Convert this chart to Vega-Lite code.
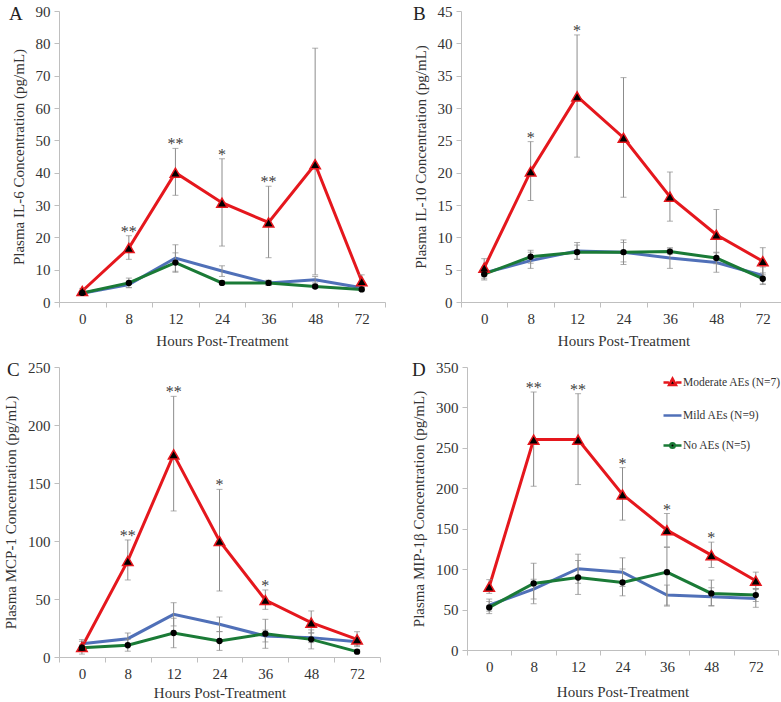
{
  "$schema": "https://vega.github.io/schema/vega-lite/v6.json",
  "background": "white",
  "padding": {"left": 3, "top": 4, "right": 0, "bottom": 0},
  "datasets": {
    "A": [
      {"t": "0", "grp": "Mild AEs (N=9)", "mean": 2.7, "lo": 2.1, "hi": 3.3, "sig": ""},
      {"t": "8", "grp": "Mild AEs (N=9)", "mean": 5.4, "lo": 4.4, "hi": 6.4, "sig": ""},
      {"t": "12", "grp": "Mild AEs (N=9)", "mean": 13.6, "lo": 9.5, "hi": 17.7, "sig": ""},
      {"t": "24", "grp": "Mild AEs (N=9)", "mean": 9.6, "lo": 7.9, "hi": 11.2, "sig": ""},
      {"t": "36", "grp": "Mild AEs (N=9)", "mean": 5.9, "lo": 5.1, "hi": 6.7, "sig": ""},
      {"t": "48", "grp": "Mild AEs (N=9)", "mean": 6.9, "lo": 5.9, "hi": 7.9, "sig": ""},
      {"t": "72", "grp": "Mild AEs (N=9)", "mean": 4.4, "lo": 3.8, "hi": 5.0, "sig": ""},
      {"t": "0", "grp": "No AEs (N=5)", "mean": 2.8, "lo": 2.3, "hi": 3.3, "sig": ""},
      {"t": "8", "grp": "No AEs (N=5)", "mean": 5.9, "lo": 4.5, "hi": 7.4, "sig": ""},
      {"t": "12", "grp": "No AEs (N=5)", "mean": 12.2, "lo": 9.2, "hi": 15.2, "sig": ""},
      {"t": "24", "grp": "No AEs (N=5)", "mean": 5.9, "lo": 5.3, "hi": 6.5, "sig": ""},
      {"t": "36", "grp": "No AEs (N=5)", "mean": 5.9, "lo": 5.1, "hi": 6.7, "sig": ""},
      {"t": "48", "grp": "No AEs (N=5)", "mean": 4.8, "lo": 4.2, "hi": 5.4, "sig": ""},
      {"t": "72", "grp": "No AEs (N=5)", "mean": 3.9, "lo": 3.4, "hi": 4.4, "sig": ""},
      {"t": "0", "grp": "Moderate AEs (N=7)", "mean": 3.4, "lo": 2.6, "hi": 4.2, "sig": ""},
      {"t": "8", "grp": "Moderate AEs (N=7)", "mean": 16.7, "lo": 13.2, "hi": 20.5, "sig": "**"},
      {"t": "12", "grp": "Moderate AEs (N=7)", "mean": 40.0, "lo": 33.0, "hi": 47.5, "sig": "**"},
      {"t": "24", "grp": "Moderate AEs (N=7)", "mean": 30.7, "lo": 17.3, "hi": 44.3, "sig": "*"},
      {"t": "36", "grp": "Moderate AEs (N=7)", "mean": 24.6, "lo": 13.7, "hi": 35.8, "sig": "**"},
      {"t": "48", "grp": "Moderate AEs (N=7)", "mean": 42.6, "lo": 8.4, "hi": 78.5, "sig": ""},
      {"t": "72", "grp": "Moderate AEs (N=7)", "mean": 6.4, "lo": 4.5, "hi": 8.4, "sig": ""}
    ],
    "B": [
      {"t": "0", "grp": "Mild AEs (N=9)", "mean": 4.5, "lo": 3.6, "hi": 5.4, "sig": ""},
      {"t": "8", "grp": "Mild AEs (N=9)", "mean": 6.4, "lo": 5.2, "hi": 7.7, "sig": ""},
      {"t": "12", "grp": "Mild AEs (N=9)", "mean": 7.9, "lo": 6.6, "hi": 9.2, "sig": ""},
      {"t": "24", "grp": "Mild AEs (N=9)", "mean": 7.7, "lo": 5.8, "hi": 9.6, "sig": ""},
      {"t": "36", "grp": "Mild AEs (N=9)", "mean": 6.8, "lo": 5.2, "hi": 8.4, "sig": ""},
      {"t": "48", "grp": "Mild AEs (N=9)", "mean": 6.1, "lo": 4.6, "hi": 7.6, "sig": ""},
      {"t": "72", "grp": "Mild AEs (N=9)", "mean": 4.1, "lo": 2.8, "hi": 5.4, "sig": ""},
      {"t": "0", "grp": "No AEs (N=5)", "mean": 4.3, "lo": 3.4, "hi": 5.2, "sig": ""},
      {"t": "8", "grp": "No AEs (N=5)", "mean": 7.0, "lo": 6.0, "hi": 8.0, "sig": ""},
      {"t": "12", "grp": "No AEs (N=5)", "mean": 7.7, "lo": 6.6, "hi": 8.8, "sig": ""},
      {"t": "24", "grp": "No AEs (N=5)", "mean": 7.7, "lo": 6.2, "hi": 9.2, "sig": ""},
      {"t": "36", "grp": "No AEs (N=5)", "mean": 7.8, "lo": 7.4, "hi": 8.2, "sig": ""},
      {"t": "48", "grp": "No AEs (N=5)", "mean": 6.8, "lo": 5.9, "hi": 7.7, "sig": ""},
      {"t": "72", "grp": "No AEs (N=5)", "mean": 3.6, "lo": 2.7, "hi": 4.5, "sig": ""},
      {"t": "0", "grp": "Moderate AEs (N=7)", "mean": 5.3, "lo": 3.9, "hi": 6.7, "sig": ""},
      {"t": "8", "grp": "Moderate AEs (N=7)", "mean": 20.2, "lo": 15.7, "hi": 24.8, "sig": "*"},
      {"t": "12", "grp": "Moderate AEs (N=7)", "mean": 31.8, "lo": 22.4, "hi": 41.3, "sig": "*"},
      {"t": "24", "grp": "Moderate AEs (N=7)", "mean": 25.4, "lo": 16.2, "hi": 34.7, "sig": ""},
      {"t": "36", "grp": "Moderate AEs (N=7)", "mean": 16.3, "lo": 12.5, "hi": 20.1, "sig": ""},
      {"t": "48", "grp": "Moderate AEs (N=7)", "mean": 10.4, "lo": 6.5, "hi": 14.3, "sig": ""},
      {"t": "72", "grp": "Moderate AEs (N=7)", "mean": 6.3, "lo": 4.2, "hi": 8.4, "sig": ""}
    ],
    "C": [
      {"t": "0", "grp": "Mild AEs (N=9)", "mean": 11.5, "lo": 8.0, "hi": 15.0, "sig": ""},
      {"t": "8", "grp": "Mild AEs (N=9)", "mean": 15.8, "lo": 10.9, "hi": 20.7, "sig": ""},
      {"t": "12", "grp": "Mild AEs (N=9)", "mean": 36.8, "lo": 26.8, "hi": 46.8, "sig": ""},
      {"t": "24", "grp": "Mild AEs (N=9)", "mean": 28.2, "lo": 21.9, "hi": 34.5, "sig": ""},
      {"t": "36", "grp": "Mild AEs (N=9)", "mean": 18.1, "lo": 13.0, "hi": 23.2, "sig": ""},
      {"t": "48", "grp": "Mild AEs (N=9)", "mean": 16.7, "lo": 12.4, "hi": 21.0, "sig": ""},
      {"t": "72", "grp": "Mild AEs (N=9)", "mean": 13.2, "lo": 9.8, "hi": 16.6, "sig": ""},
      {"t": "0", "grp": "No AEs (N=5)", "mean": 8.0, "lo": 2.5, "hi": 13.5, "sig": ""},
      {"t": "8", "grp": "No AEs (N=5)", "mean": 10.1, "lo": 5.0, "hi": 15.2, "sig": ""},
      {"t": "12", "grp": "No AEs (N=5)", "mean": 20.7, "lo": 8.0, "hi": 33.4, "sig": ""},
      {"t": "24", "grp": "No AEs (N=5)", "mean": 13.8, "lo": 5.7, "hi": 21.9, "sig": ""},
      {"t": "36", "grp": "No AEs (N=5)", "mean": 20.1, "lo": 7.5, "hi": 32.5, "sig": ""},
      {"t": "48", "grp": "No AEs (N=5)", "mean": 15.2, "lo": 7.0, "hi": 23.4, "sig": ""},
      {"t": "72", "grp": "No AEs (N=5)", "mean": 4.6, "lo": 2.8, "hi": 6.4, "sig": ""},
      {"t": "0", "grp": "Moderate AEs (N=7)", "mean": 8.6, "lo": 6.6, "hi": 10.6, "sig": ""},
      {"t": "8", "grp": "Moderate AEs (N=7)", "mean": 82.8, "lo": 66.4, "hi": 100.9, "sig": "**"},
      {"t": "12", "grp": "Moderate AEs (N=7)", "mean": 174.7, "lo": 125.9, "hi": 224.7, "sig": "**"},
      {"t": "24", "grp": "Moderate AEs (N=7)", "mean": 100.0, "lo": 56.9, "hi": 144.5, "sig": "*"},
      {"t": "36", "grp": "Moderate AEs (N=7)", "mean": 49.1, "lo": 41.1, "hi": 57.8, "sig": "*"},
      {"t": "48", "grp": "Moderate AEs (N=7)", "mean": 29.6, "lo": 20.5, "hi": 39.7, "sig": ""},
      {"t": "72", "grp": "Moderate AEs (N=7)", "mean": 15.2, "lo": 9.0, "hi": 21.8, "sig": ""}
    ],
    "D": [
      {"t": "0", "grp": "Mild AEs (N=9)", "mean": 55.6, "lo": 48.0, "hi": 63.0, "sig": ""},
      {"t": "8", "grp": "Mild AEs (N=9)", "mean": 75.3, "lo": 63.0, "hi": 87.5, "sig": ""},
      {"t": "12", "grp": "Mild AEs (N=9)", "mean": 100.5, "lo": 82.5, "hi": 118.5, "sig": ""},
      {"t": "24", "grp": "Mild AEs (N=9)", "mean": 96.3, "lo": 78.6, "hi": 114.0, "sig": ""},
      {"t": "36", "grp": "Mild AEs (N=9)", "mean": 67.9, "lo": 55.5, "hi": 80.3, "sig": ""},
      {"t": "48", "grp": "Mild AEs (N=9)", "mean": 65.9, "lo": 55.0, "hi": 77.0, "sig": ""},
      {"t": "72", "grp": "Mild AEs (N=9)", "mean": 63.8, "lo": 52.8, "hi": 74.8, "sig": ""},
      {"t": "0", "grp": "No AEs (N=5)", "mean": 52.7, "lo": 45.0, "hi": 60.0, "sig": ""},
      {"t": "8", "grp": "No AEs (N=5)", "mean": 82.3, "lo": 57.3, "hi": 107.3, "sig": ""},
      {"t": "12", "grp": "No AEs (N=5)", "mean": 89.7, "lo": 68.7, "hi": 110.7, "sig": ""},
      {"t": "24", "grp": "No AEs (N=5)", "mean": 83.6, "lo": 67.0, "hi": 100.2, "sig": ""},
      {"t": "36", "grp": "No AEs (N=5)", "mean": 96.3, "lo": 54.3, "hi": 126.8, "sig": ""},
      {"t": "48", "grp": "No AEs (N=5)", "mean": 70.0, "lo": 54.3, "hi": 86.5, "sig": ""},
      {"t": "72", "grp": "No AEs (N=5)", "mean": 67.9, "lo": 60.0, "hi": 76.0, "sig": ""},
      {"t": "0", "grp": "Moderate AEs (N=7)", "mean": 78.2, "lo": 70.0, "hi": 87.0, "sig": ""},
      {"t": "8", "grp": "Moderate AEs (N=7)", "mean": 260.2, "lo": 202.6, "hi": 319.0, "sig": "**"},
      {"t": "12", "grp": "Moderate AEs (N=7)", "mean": 260.2, "lo": 204.6, "hi": 317.0, "sig": "**"},
      {"t": "24", "grp": "Moderate AEs (N=7)", "mean": 192.3, "lo": 160.6, "hi": 225.6, "sig": "*"},
      {"t": "36", "grp": "Moderate AEs (N=7)", "mean": 148.2, "lo": 127.6, "hi": 168.8, "sig": "*"},
      {"t": "48", "grp": "Moderate AEs (N=7)", "mean": 117.3, "lo": 102.0, "hi": 133.4, "sig": "*"},
      {"t": "72", "grp": "Moderate AEs (N=7)", "mean": 85.6, "lo": 76.0, "hi": 96.3, "sig": ""}
    ]
  },
  "resolve": {"scale": {"color": "independent", "shape": "independent", "y": "independent", "x": "independent"}, "legend": {"color": "independent", "shape": "independent"}},
  "spacing": 12,
  "vconcat": [
    {
      "spacing": 27,
      "resolve": {"scale": {"color": "independent", "shape": "independent", "y": "independent", "x": "independent"}, "legend": {"color": "independent", "shape": "independent"}},
      "hconcat": [
        {
          "width": 326, "height": 291,
          "data": {"name": "A"},
          "title": {"text": "A", "dx": -50, "dy": 24},
          "encoding": {"x": {"field": "t", "type": "ordinal", "sort": ["0","8","12","24","36","48","72"], "scale": {"type": "band", "paddingInner": 0, "paddingOuter": 0}, "axis": {"title": "Hours Post-Treatment", "labelPadding": 4, "titlePadding": 7}}},
          "layer": [
            {"mark": {"type": "line", "strokeWidth": 3},
             "encoding": {"y": {"field": "mean", "type": "quantitative", "scale": {"domain": [0, 90], "nice": false}, "axis": {"values": [0,10,20,30,40,50,60,70,80,90], "title": "Plasma IL-6 Concentration (pg/mL)"}},
                          "color": {"field": "grp", "type": "nominal", "scale": {"domain": ["Moderate AEs (N=7)", "Mild AEs (N=9)", "No AEs (N=5)"], "range": ["#E5171D", "#5070B8", "#1A7A36"]}, "legend": null}}},
            {"mark": {"type": "rule", "color": "#8C8C8C", "strokeWidth": 1}, "encoding": {"y": {"field": "lo", "type": "quantitative", "axis": {"values": [0,10,20,30,40,50,60,70,80,90], "title": "Plasma IL-6 Concentration (pg/mL)"}}, "y2": {"field": "hi"}}},
            {"mark": {"type": "tick", "color": "#8C8C8C", "thickness": 1, "size": 6}, "encoding": {"y": {"field": "lo", "type": "quantitative", "axis": {"values": [0,10,20,30,40,50,60,70,80,90], "title": "Plasma IL-6 Concentration (pg/mL)"}}}},
            {"mark": {"type": "tick", "color": "#8C8C8C", "thickness": 1, "size": 6}, "encoding": {"y": {"field": "hi", "type": "quantitative", "axis": {"values": [0,10,20,30,40,50,60,70,80,90], "title": "Plasma IL-6 Concentration (pg/mL)"}}}},
            {"transform": [{"filter": "datum.grp === 'Moderate AEs (N=7)'"}],
             "mark": {"type": "point", "shape": "triangle-up", "filled": true, "fill": "#000000", "stroke": "#E5171D", "strokeWidth": 1.5, "opacity": 1, "size": 110},
             "encoding": {"y": {"field": "mean", "type": "quantitative", "axis": {"values": [0,10,20,30,40,50,60,70,80,90], "title": "Plasma IL-6 Concentration (pg/mL)"}}}},
            {"transform": [{"filter": "datum.grp === 'No AEs (N=5)'"}],
             "mark": {"type": "point", "shape": "circle", "filled": true, "fill": "#000000", "opacity": 1, "size": 40},
             "encoding": {"y": {"field": "mean", "type": "quantitative", "axis": {"values": [0,10,20,30,40,50,60,70,80,90], "title": "Plasma IL-6 Concentration (pg/mL)"}}}},
            {"transform": [{"filter": "datum.sig !== ''"}],
             "mark": {"type": "text", "baseline": "alphabetic", "dy": 1, "fontSize": 16, "font": "Liberation Serif", "color": "#404040"},
             "encoding": {"y": {"field": "hi", "type": "quantitative", "axis": {"values": [0,10,20,30,40,50,60,70,80,90], "title": "Plasma IL-6 Concentration (pg/mL)"}}, "text": {"field": "sig"}}}
          ]
        },
        {
          "width": 325, "height": 291,
          "data": {"name": "B"},
          "title": {"text": "B", "dx": -48, "dy": 24},
          "encoding": {"x": {"field": "t", "type": "ordinal", "sort": ["0","8","12","24","36","48","72"], "scale": {"type": "band", "paddingInner": 0, "paddingOuter": 0}, "axis": {"title": "Hours Post-Treatment", "labelPadding": 4, "titlePadding": 7}}},
          "layer": [
            {"mark": {"type": "line", "strokeWidth": 3},
             "encoding": {"y": {"field": "mean", "type": "quantitative", "scale": {"domain": [0, 45], "nice": false}, "axis": {"values": [0,5,10,15,20,25,30,35,40,45], "title": "Plasma IL-10 Concentration (pg/mL)"}},
                          "color": {"field": "grp", "type": "nominal", "scale": {"domain": ["Moderate AEs (N=7)", "Mild AEs (N=9)", "No AEs (N=5)"], "range": ["#E5171D", "#5070B8", "#1A7A36"]}, "legend": null}}},
            {"mark": {"type": "rule", "color": "#8C8C8C", "strokeWidth": 1}, "encoding": {"y": {"field": "lo", "type": "quantitative", "axis": {"values": [0,5,10,15,20,25,30,35,40,45], "title": "Plasma IL-10 Concentration (pg/mL)"}}, "y2": {"field": "hi"}}},
            {"mark": {"type": "tick", "color": "#8C8C8C", "thickness": 1, "size": 6}, "encoding": {"y": {"field": "lo", "type": "quantitative", "axis": {"values": [0,5,10,15,20,25,30,35,40,45], "title": "Plasma IL-10 Concentration (pg/mL)"}}}},
            {"mark": {"type": "tick", "color": "#8C8C8C", "thickness": 1, "size": 6}, "encoding": {"y": {"field": "hi", "type": "quantitative", "axis": {"values": [0,5,10,15,20,25,30,35,40,45], "title": "Plasma IL-10 Concentration (pg/mL)"}}}},
            {"transform": [{"filter": "datum.grp === 'Moderate AEs (N=7)'"}],
             "mark": {"type": "point", "shape": "triangle-up", "filled": true, "fill": "#000000", "stroke": "#E5171D", "strokeWidth": 1.5, "opacity": 1, "size": 110},
             "encoding": {"y": {"field": "mean", "type": "quantitative", "axis": {"values": [0,5,10,15,20,25,30,35,40,45], "title": "Plasma IL-10 Concentration (pg/mL)"}}}},
            {"transform": [{"filter": "datum.grp === 'No AEs (N=5)'"}],
             "mark": {"type": "point", "shape": "circle", "filled": true, "fill": "#000000", "opacity": 1, "size": 40},
             "encoding": {"y": {"field": "mean", "type": "quantitative", "axis": {"values": [0,5,10,15,20,25,30,35,40,45], "title": "Plasma IL-10 Concentration (pg/mL)"}}}},
            {"transform": [{"filter": "datum.sig !== ''"}],
             "mark": {"type": "text", "baseline": "alphabetic", "dy": 1, "fontSize": 16, "font": "Liberation Serif", "color": "#404040"},
             "encoding": {"y": {"field": "hi", "type": "quantitative", "axis": {"values": [0,5,10,15,20,25,30,35,40,45], "title": "Plasma IL-10 Concentration (pg/mL)"}}, "text": {"field": "sig"}}}
          ]
        }
      ]
    },
    {
      "spacing": 30,
      "resolve": {"scale": {"color": "independent", "shape": "independent", "y": "independent", "x": "independent"}, "legend": {"color": "independent", "shape": "independent"}},
      "hconcat": [
        {
          "width": 321, "height": 290,
          "data": {"name": "C"},
          "title": {"text": "C", "dx": -52, "dy": 24},
          "encoding": {"x": {"field": "t", "type": "ordinal", "sort": ["0","8","12","24","36","48","72"], "scale": {"type": "band", "paddingInner": 0, "paddingOuter": 0}, "axis": {"title": "Hours Post-Treatment", "labelPadding": 4, "titlePadding": 4}}},
          "layer": [
            {"mark": {"type": "line", "strokeWidth": 3},
             "encoding": {"y": {"field": "mean", "type": "quantitative", "scale": {"domain": [0, 250], "nice": false}, "axis": {"values": [0,50,100,150,200,250], "title": "Plasma MCP-1 Concentration (pg/mL)"}},
                          "color": {"field": "grp", "type": "nominal", "scale": {"domain": ["Moderate AEs (N=7)", "Mild AEs (N=9)", "No AEs (N=5)"], "range": ["#E5171D", "#5070B8", "#1A7A36"]}, "legend": null}}},
            {"mark": {"type": "rule", "color": "#8C8C8C", "strokeWidth": 1}, "encoding": {"y": {"field": "lo", "type": "quantitative", "axis": {"values": [0,50,100,150,200,250], "title": "Plasma MCP-1 Concentration (pg/mL)"}}, "y2": {"field": "hi"}}},
            {"mark": {"type": "tick", "color": "#8C8C8C", "thickness": 1, "size": 6}, "encoding": {"y": {"field": "lo", "type": "quantitative", "axis": {"values": [0,50,100,150,200,250], "title": "Plasma MCP-1 Concentration (pg/mL)"}}}},
            {"mark": {"type": "tick", "color": "#8C8C8C", "thickness": 1, "size": 6}, "encoding": {"y": {"field": "hi", "type": "quantitative", "axis": {"values": [0,50,100,150,200,250], "title": "Plasma MCP-1 Concentration (pg/mL)"}}}},
            {"transform": [{"filter": "datum.grp === 'Moderate AEs (N=7)'"}],
             "mark": {"type": "point", "shape": "triangle-up", "filled": true, "fill": "#000000", "stroke": "#E5171D", "strokeWidth": 1.5, "opacity": 1, "size": 110},
             "encoding": {"y": {"field": "mean", "type": "quantitative", "axis": {"values": [0,50,100,150,200,250], "title": "Plasma MCP-1 Concentration (pg/mL)"}}}},
            {"transform": [{"filter": "datum.grp === 'No AEs (N=5)'"}],
             "mark": {"type": "point", "shape": "circle", "filled": true, "fill": "#000000", "opacity": 1, "size": 40},
             "encoding": {"y": {"field": "mean", "type": "quantitative", "axis": {"values": [0,50,100,150,200,250], "title": "Plasma MCP-1 Concentration (pg/mL)"}}}},
            {"transform": [{"filter": "datum.sig !== ''"}],
             "mark": {"type": "text", "baseline": "alphabetic", "dy": 1, "fontSize": 16, "font": "Liberation Serif", "color": "#404040"},
             "encoding": {"y": {"field": "hi", "type": "quantitative", "axis": {"values": [0,50,100,150,200,250], "title": "Plasma MCP-1 Concentration (pg/mL)"}}, "text": {"field": "sig"}}}
          ]
        },
        {
          "width": 311, "height": 283,
          "data": {"name": "D"},
          "title": {"text": "D", "dx": -55, "dy": 24},
          "encoding": {"x": {"field": "t", "type": "ordinal", "sort": ["0","8","12","24","36","48","72"], "scale": {"type": "band", "paddingInner": 0, "paddingOuter": 0}, "axis": {"title": "Hours Post-Treatment", "labelPadding": 4, "titlePadding": 10}}},
          "layer": [
            {"mark": {"type": "line", "strokeWidth": 3},
             "encoding": {"y": {"field": "mean", "type": "quantitative", "scale": {"domain": [0, 350], "nice": false}, "axis": {"values": [0,50,100,150,200,250,300,350], "title": "Plasma MIP-1β Concentration (pg/mL)"}},
                          "color": {"field": "grp", "type": "nominal", "scale": {"domain": ["Moderate AEs (N=7)", "Mild AEs (N=9)", "No AEs (N=5)"], "range": ["#E5171D", "#5070B8", "#1A7A36"]},
                                    "legend": {"orient": "none", "legendX": 195, "legendY": 5, "title": null, "symbolSize": 324, "symbolStrokeWidth": 2.5, "labelFont": "Liberation Serif", "labelFontSize": 11.5, "labelColor": "#333333", "rowPadding": 14, "labelOffset": 0}}}},
            {"mark": {"type": "rule", "color": "#8C8C8C", "strokeWidth": 1}, "encoding": {"y": {"field": "lo", "type": "quantitative", "axis": {"values": [0,50,100,150,200,250,300,350], "title": "Plasma MIP-1β Concentration (pg/mL)"}}, "y2": {"field": "hi"}}},
            {"mark": {"type": "tick", "color": "#8C8C8C", "thickness": 1, "size": 6}, "encoding": {"y": {"field": "lo", "type": "quantitative", "axis": {"values": [0,50,100,150,200,250,300,350], "title": "Plasma MIP-1β Concentration (pg/mL)"}}}},
            {"mark": {"type": "tick", "color": "#8C8C8C", "thickness": 1, "size": 6}, "encoding": {"y": {"field": "hi", "type": "quantitative", "axis": {"values": [0,50,100,150,200,250,300,350], "title": "Plasma MIP-1β Concentration (pg/mL)"}}}},
            {"transform": [{"filter": "datum.grp === 'Moderate AEs (N=7)'"}],
             "mark": {"type": "point", "shape": "triangle-up", "filled": true, "fill": "#000000", "stroke": "#E5171D", "strokeWidth": 1.5, "opacity": 1, "size": 110},
             "encoding": {"y": {"field": "mean", "type": "quantitative", "axis": {"values": [0,50,100,150,200,250,300,350], "title": "Plasma MIP-1β Concentration (pg/mL)"}}}},
            {"transform": [{"filter": "datum.grp === 'No AEs (N=5)'"}],
             "mark": {"type": "point", "shape": "circle", "filled": true, "fill": "#000000", "opacity": 1, "size": 40},
             "encoding": {"y": {"field": "mean", "type": "quantitative", "axis": {"values": [0,50,100,150,200,250,300,350], "title": "Plasma MIP-1β Concentration (pg/mL)"}}}},
            {"transform": [{"filter": "false"}],
             "mark": {"type": "point", "filled": true, "fill": "#000000", "opacity": 1},
             "encoding": {"y": {"field": "mean", "type": "quantitative", "axis": {"values": [0,50,100,150,200,250,300,350], "title": "Plasma MIP-1β Concentration (pg/mL)"}},
                          "shape": {"field": "grp", "type": "nominal", "scale": {"domain": ["Moderate AEs (N=7)", "Mild AEs (N=9)", "No AEs (N=5)"], "range": ["M-1,0H-0.4M0.4,0H1M0,-0.42L0.38,0.28L-0.38,0.28Z", "M-1,0H1", "M-1,0H-0.25M0.25,0H1M-0.25,0A0.25,0.25,0,1,0,0.25,0A0.25,0.25,0,1,0,-0.25,0Z"]},
                                    "legend": {"orient": "none", "legendX": 195, "legendY": 5, "title": null, "symbolSize": 324, "symbolStrokeWidth": 2.5, "labelFont": "Liberation Serif", "labelFontSize": 11.5, "labelColor": "#333333", "rowPadding": 14, "labelOffset": 0}}}},
            {"transform": [{"filter": "datum.sig !== ''"}],
             "mark": {"type": "text", "baseline": "alphabetic", "dy": 1, "fontSize": 16, "font": "Liberation Serif", "color": "#404040"},
             "encoding": {"y": {"field": "hi", "type": "quantitative", "axis": {"values": [0,50,100,150,200,250,300,350], "title": "Plasma MIP-1β Concentration (pg/mL)"}}, "text": {"field": "sig"}}}
          ]
        }
      ]
    }
  ],
  "config": {
    "view": {"stroke": null},
    "font": "Liberation Serif",
    "title": {"font": "Liberation Serif", "fontSize": 19, "fontWeight": "normal", "color": "#222222", "anchor": "start", "frame": "group", "offset": 0},
    "axis": {"labelFont": "Liberation Serif", "labelFontSize": 15, "labelColor": "#333333", "titleFont": "Liberation Serif", "titleFontSize": 15, "titleFontWeight": "normal", "titleColor": "#333333", "domainColor": "#BFBFBF", "tickColor": "#BFBFBF", "tickSize": 5, "grid": false, "labelOverlap": false},
    "axisX": {"labelAngle": 0, "tickBand": "extent"},
    "axisY": {"titlePadding": 9, "labelPadding": 4}
  }
}
